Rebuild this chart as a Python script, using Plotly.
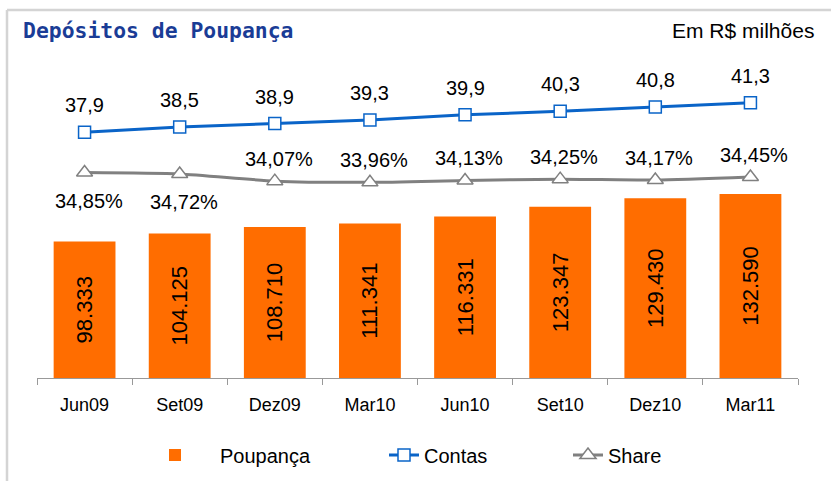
import plotly.graph_objects as go

categories = ["Jun09", "Set09", "Dez09", "Mar10", "Jun10", "Set10", "Dez10", "Mar11"]
poupanca = [98333, 104125, 108710, 111341, 116331, 123347, 129430, 132590]
contas = [37.9, 38.5, 38.9, 39.3, 39.9, 40.3, 40.8, 41.3]
share = [34.85, 34.72, 34.07, 33.96, 34.13, 34.25, 34.17, 34.45]
share_label_below = [True, True, False, False, False, False, False, False]

FONT = "Liberation Sans, Arial, sans-serif"
W, H = 831, 481
L, R, T, B = 37, 33, 20, 103
PW, PH = W - L - R, H - T - B

def px(x):
    return (x - L) / PW

def py(y):
    return (H - B - y) / PH

def br(v, d):
    return f"{v:.{d}f}".replace(".", ",")

fig = go.Figure()

fig.add_trace(go.Bar(
    x=categories, y=poupanca, name="Poupança",
    marker=dict(color="#FF6D00", line=dict(width=0)),
    texttemplate="%{y:,.0f}", textposition="inside", textangle=-90,
    insidetextanchor="middle", constraintext="none",
    textfont=dict(family=FONT, size=22, color="#000000"),
    yaxis="y", legend="legend", hoverinfo="skip",
))

fig.add_trace(go.Scatter(
    x=categories, y=contas, name="Contas", mode="lines+markers",
    line=dict(color="#0A64C8", width=3),
    marker=dict(symbol="square", size=12, color="#FFFFFF", line=dict(color="#0A64C8", width=1.5)),
    yaxis="y2", legend="legend2", hoverinfo="skip",
))

fig.add_trace(go.Scatter(
    x=categories, y=share, name="Share", mode="lines+markers",
    line=dict(color="#808080", width=3, shape="spline", smoothing=0.6),
    marker=dict(symbol="triangle-up", size=14, color="#FFFFFF", line=dict(color="#808080", width=1.5)),
    yaxis="y3", legend="legend3", hoverinfo="skip",
))

annotations = []
for c, v in zip(categories, contas):
    annotations.append(dict(x=c, y=v, xref="x", yref="y2", text=br(v, 1), showarrow=False,
                            yshift=27, font=dict(family=FONT, size=20, color="#000000")))
for c, v, below in zip(categories, share, share_label_below):
    annotations.append(dict(x=c, y=v, xref="x", yref="y3", text=br(v, 2) + "%", showarrow=False,
                            yshift=-28 if below else 22, xshift=4,
                            font=dict(family=FONT, size=20, color="#000000")))

annotations += [
    dict(text="<b>Depósitos de Poupança</b>", xref="paper", yref="paper",
         x=px(21), y=py(30), xanchor="left", yanchor="middle", showarrow=False,
         font=dict(family="DejaVu Sans Mono", size=21.4, color="#1A3C96")),
    dict(text="Em R$ milhões", xref="paper", yref="paper",
         x=px(816), y=py(30), xanchor="right", yanchor="middle", showarrow=False,
         font=dict(family=FONT, size=21, color="#000000")),
]

legend_common = dict(orientation="h", yanchor="middle", y=py(455), xanchor="left",
                     font=dict(family=FONT, size=20, color="#000000"),
                     bgcolor="rgba(0,0,0,0)", borderwidth=0)

fig.update_layout(
    width=W, height=H,
    margin=dict(l=L, r=R, t=T, b=B, autoexpand=False),
    paper_bgcolor="#FFFFFF", plot_bgcolor="#FFFFFF",
    separators=",.",
    bargap=0.35,
    font=dict(family=FONT, color="#000000"),
    xaxis=dict(type="category", showgrid=False, showline=True, linecolor="#999999", linewidth=1,
               ticks="outside", tickson="boundaries", ticklen=6, tickcolor="#999999",
               tickfont=dict(family=FONT, size=18, color="#000000"), ticklabelstandoff=10,
               fixedrange=True, automargin=False),
    yaxis=dict(range=[0, 257925], visible=False, fixedrange=True),
    yaxis2=dict(range=[9.69, 50.79], overlaying="y", visible=False, fixedrange=True),
    yaxis3=dict(range=[16.17, 48.72], overlaying="y", visible=False, fixedrange=True),
    legend=dict(x=px(130), itemwidth=80, **legend_common),
    legend2=dict(x=px(384), **legend_common),
    legend3=dict(x=px(568), **legend_common),
    showlegend=True,
    annotations=annotations,
    shapes=[
        dict(type="line", xref="paper", yref="paper", x0=px(7), x1=px(831), y0=py(10), y1=py(10),
             line=dict(color="#D4D4D4", width=2.5)),
        dict(type="line", xref="paper", yref="paper", x0=px(7), x1=px(7), y0=py(10), y1=py(481),
             line=dict(color="#D4D4D4", width=2.5)),
    ],
)

fig.write_html("out.html", config={"displayModeBar": False},
               post_script="document.body.style.margin='0';document.body.style.padding='0';")
